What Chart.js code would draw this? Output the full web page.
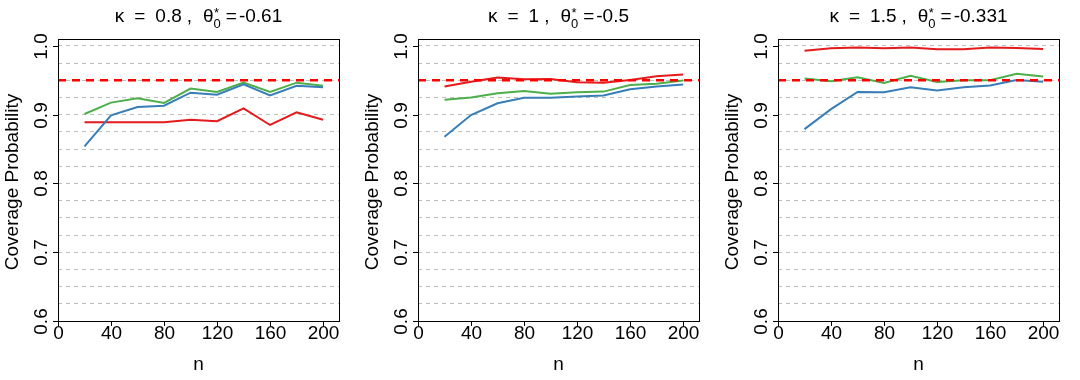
<!DOCTYPE html>
<html>
<head>
<meta charset="utf-8">
<script src="https://cdn.jsdelivr.net/npm/chart.js@4.4.1/dist/chart.umd.min.js"></script>
<style>
    html, body { margin: 0; padding: 0; background: #fff; }
    #wrap { position: relative; width: 1080px; height: 380px; }
    .panel { position: absolute; top: 0; width: 360px; height: 380px; }
</style>
</head>
<body>
<div id="wrap">
    <div class="panel" style="left:0px"><canvas id="c1" width="360" height="380"></canvas></div>
    <div class="panel" style="left:360px"><canvas id="c2" width="360" height="380"></canvas></div>
    <div class="panel" style="left:720px"><canvas id="c3" width="360" height="380"></canvas></div>
</div>
<script>
// Datos
const nValues = [20, 40, 60, 80, 100, 120, 140, 160, 180, 200];
const xTicks = [0, 40, 80, 120, 160, 200];
const yTicks = [0.6, 0.7, 0.8, 0.9, 1.0];
const yGridLines = [0.625, 0.65, 0.675, 0.7, 0.725, 0.75, 0.775, 0.8, 0.825, 0.85, 0.875, 0.9, 0.925, 0.95, 0.975, 1.0];
const targetLevel = 0.95;

const kappaLabels = ['0.8', '1', '1.5'];
const thetaLabels = ['-0.61', '-0.5', '-0.331'];

const red1   = [0.889, 0.889, 0.889, 0.889, 0.8925, 0.8905, 0.909, 0.885, 0.9035, 0.8925];
const blue1  = [0.854, 0.899, 0.911, 0.913, 0.932, 0.929, 0.944, 0.928, 0.942, 0.940];
const green1 = [0.901, 0.9175, 0.924, 0.917, 0.938, 0.933, 0.9465, 0.933, 0.9465, 0.942];

const red2   = [0.941, 0.948, 0.954, 0.9515, 0.952, 0.947, 0.9465, 0.9505, 0.956, 0.9585];
const blue2  = [0.868, 0.8995, 0.9165, 0.9245, 0.9245, 0.9265, 0.928, 0.937, 0.941, 0.944];
const green2 = [0.9215, 0.925, 0.931, 0.9345, 0.9305, 0.9325, 0.9335, 0.943, 0.945, 0.9495];

const red3   = [0.993, 0.9965, 0.9975, 0.9965, 0.9975, 0.995, 0.995, 0.9975, 0.997, 0.9955];
const blue3  = [0.879, 0.908, 0.933, 0.9325, 0.94, 0.935, 0.94, 0.9425, 0.9505, 0.948];
const green3 = [0.9525, 0.9485, 0.9545, 0.946, 0.9565, 0.9475, 0.95, 0.95, 0.9595, 0.9555];

const FONT = '"Liberation Sans", Arial, sans-serif';

function toPoints(values) {
    return nValues.map((n, i) => ({ x: n, y: values[i] }));
}

// Título con subíndice y superíndice (estilo plotmath)
function dibujarTitulo(ctx, cx, baseY, kappa, theta) {
    const big = '19px ' + FONT;
    const small = '13px ' + FONT;
    // [texto, fuente, dy, espacio después, superíndice]
    const segs = [
        ['κ', big, 0, 10],
        ['=', big, 0, 10],
        [kappa, big, 0, 5],
        [',', big, 0, 11],
        ['θ', big, 0, 0],
        ['0', small, 6.5, 5, '*'],
        ['=', big, 0, 2],
        [theta, big, 0, 0]
    ];
    let total = 0;
    segs.forEach(s => {
        ctx.font = s[1];
        s.w = ctx.measureText(s[0]).width;
        total += s.w + s[3];
    });
    let x = cx - total / 2;
    ctx.fillStyle = '#000';
    ctx.textAlign = 'left';
    ctx.textBaseline = 'alphabetic';
    segs.forEach(s => {
        ctx.font = s[1];
        ctx.fillText(s[0], x, baseY + s[2]);
        if (s[4]) ctx.fillText(s[4], x + 0.5, baseY - 5);
        x += s.w + s[3];
    });
}

const marcoPlugin = {
    id: 'marco',
    afterDatasetsDraw(chart) {
        const { ctx, chartArea, scales } = chart;
        const y = scales.y.getPixelForValue(targetLevel);
        ctx.save();
        ctx.beginPath();
        ctx.rect(chartArea.left, chartArea.top, chartArea.right - chartArea.left, chartArea.bottom - chartArea.top);
        ctx.clip();
        ctx.strokeStyle = '#FF0000';
        ctx.lineWidth = 2.5;
        ctx.setLineDash([8, 6]);
        ctx.beginPath();
        ctx.moveTo(chartArea.left, y);
        ctx.lineTo(chartArea.right, y);
        ctx.stroke();
        ctx.restore();
    },
    afterDraw(chart) {
        const { ctx, chartArea, scales } = chart;
        const idx = chart.options.plugins.marco.panel;
        const { left, right, top, bottom } = chartArea;
        ctx.save();
        ctx.strokeStyle = '#000';
        ctx.lineWidth = 1;
        ctx.setLineDash([]);
        ctx.strokeRect(left + 0.5, top + 0.5, right - left, bottom - top);

        // Eje X
        ctx.font = '19px ' + FONT;
        ctx.fillStyle = '#000';
        ctx.textAlign = 'center';
        ctx.textBaseline = 'alphabetic';
        xTicks.forEach(v => {
            const px = Math.round(scales.x.getPixelForValue(v)) + 0.5;
            ctx.beginPath();
            ctx.moveTo(px, bottom);
            ctx.lineTo(px, bottom + 5);
            ctx.stroke();
            ctx.fillText(String(v), px, 338.5);
        });
        ctx.fillText('n', (left + right) / 2, 370);

        // Eje Y (etiquetas rotadas)
        yTicks.forEach(v => {
            const py = Math.round(scales.y.getPixelForValue(v)) + 0.5;
            ctx.beginPath();
            ctx.moveTo(left, py);
            ctx.lineTo(left - 5, py);
            ctx.stroke();
            ctx.save();
            ctx.translate(47, py);
            ctx.rotate(-Math.PI / 2);
            ctx.fillText(v.toFixed(1), 0, 0);
            ctx.restore();
        });
        ctx.save();
        ctx.translate(18, (top + bottom) / 2 + 2);
        ctx.rotate(-Math.PI / 2);
        ctx.fillText('Coverage Probability', 0, 0);
        ctx.restore();

        dibujarTitulo(ctx, (left + right) / 2, 21.5, kappaLabels[idx], thetaLabels[idx]);
        ctx.restore();
    }
};

function crearPanel(canvasId, idx, red, blue, green) {
    const ctx = document.getElementById(canvasId).getContext('2d');
    return new Chart(ctx, {
        type: 'line',
        data: {
            datasets: [
                { data: toPoints(blue), borderColor: '#377EB8', order: 1 },
                { data: toPoints(green), borderColor: '#4DAF4A', order: 2 },
                { data: toPoints(red), borderColor: '#E41A1C', order: 3 }
            ]
        },
        options: {
            responsive: false,
            animation: false,
            layout: { padding: { left: 58, right: 21, top: 39, bottom: 59 } },
            elements: {
                line: { borderWidth: 2, tension: 0 },
                point: { radius: 0 }
            },
            plugins: {
                legend: { display: false },
                tooltip: { enabled: false },
                marco: { panel: idx }
            },
            scales: {
                x: {
                    type: 'linear',
                    min: 0,
                    max: 212,
                    ticks: { display: false },
                    grid: { display: false, drawTicks: false },
                    border: { display: false },
                    afterFit: s => { s.height = 0; }
                },
                y: {
                    min: 0.6,
                    max: 1.01,
                    ticks: { display: false },
                    grid: { color: '#BEBEBE', lineWidth: 1, drawTicks: false },
                    border: { display: false, dash: [4, 4] },
                    afterBuildTicks: s => { s.ticks = yGridLines.map(v => ({ value: v })); },
                    afterFit: s => { s.width = 0; }
                }
            }
        },
        plugins: [marcoPlugin]
    });
}

crearPanel('c1', 0, red1, blue1, green1);
crearPanel('c2', 1, red2, blue2, green2);
crearPanel('c3', 2, red3, blue3, green3);
</script>
</body>
</html>
